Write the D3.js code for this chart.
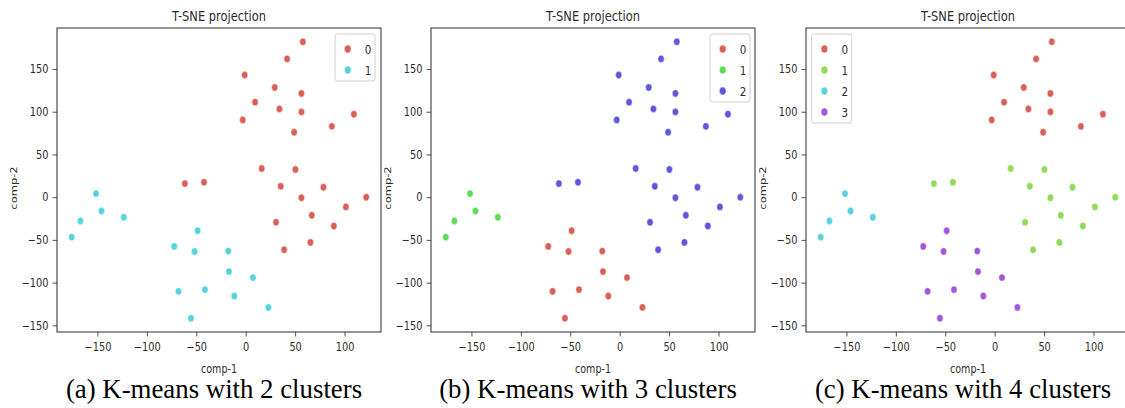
<!DOCTYPE html>
<html>
<head>
<meta charset="utf-8">
<script src="https://cdn.jsdelivr.net/npm/d3@7"></script>
<style>
  html, body { margin: 0; padding: 0; background: #fff; }
  svg { display: block; }
</style>
</head>
<body>
<svg id="chart" width="1125" height="408"></svg>
<script>
// ---- data ----
const compX = [57.8, 41.9, -1, 29.4, 56.4, 9.5, 34.1, 56.4, 109.5, -3, 87.2, 49,
  16.2, 50.3, -61.5, -42.2, 35.5, 78.7, 56.4, 122, 66.9, 101.4, 30.7, 89.2, 65.5, 38.9,
  -151.4, -145.9, -167.2, -123.3, -176,
  -48.6, -72.3, -51.7, -17.6, -16.9, 7.4, -67.9, -41.2, -11.5, 23, -55.4];
const compY = [181.8, 161.8, 142.9, 128.4, 121.4, 111.2, 103.3, 99.8, 97.1, 90.4, 82.9, 75.9,
  33.5, 32.4, 15.9, 17.5, 12.7, 11.6, -0.7, -0.1, -21.2, -11.4, -29.4, -33.7, -52.9, -61.6,
  4.2, -16.1, -27.8, -23.5, -46.7,
  -39.2, -57.6, -63.5, -63.1, -87.1, -94.1, -110.2, -108.2, -115.7, -129, -141.6];
const k2Labels = [0,0,0,0,0,0,0,0,0,0,0,0, 0,0,0,0,0,0,0,0,0,0,0,0,0,0, 1,1,1,1,1, 1,1,1,1,1,1,1,1,1,1,1];
const k3Labels = [2,2,2,2,2,2,2,2,2,2,2,2, 2,2,2,2,2,2,2,2,2,2,2,2,2,2, 1,1,1,1,1, 0,0,0,0,0,0,0,0,0,0,0];
const k4Labels = [0,0,0,0,0,0,0,0,0,0,0,0, 1,1,1,1,1,1,1,1,1,1,1,1,1,1, 2,2,2,2,2, 3,3,3,3,3,3,3,3,3,3,3];
const xTicks = [-150, -100, -50, 0, 50, 100];
const yTicks = [-150, -100, -50, 0, 50, 100, 150];
const captions = ["(a) K-means with 2 clusters", "(b) K-means with 3 clusters", "(c) K-means with 4 clusters"];
const panelTitle = "T-SNE projection";
const xLabel = "comp-1";
const yLabel = "comp-2";

// ---- styles ----
const palettes = [
  ["#db5f57", "#57d3db"],
  ["#db5f57", "#5fdb57", "#5f57db"],
  ["#db5f57", "#91db57", "#57d3db", "#a157db"]
];
const SX = 0.83; // horizontal squeeze of the reference image
const sansFont = "'DejaVu Sans', sans-serif";
const panels = [
  { left: 57,  labels: k2Labels, pal: palettes[0], legendX: 278, cap: captions[0] },
  { left: 431, labels: k3Labels, pal: palettes[1], legendX: 279, cap: captions[1] },
  { left: 806, labels: k4Labels, pal: palettes[2], legendX: 5.7, cap: captions[2] }
];
const plotTop = 28, W = 324, H = 304;

function padded(ext) { const p = (ext[1] - ext[0]) * 0.05; return [ext[0] - p, ext[1] + p]; }
const x = d3.scaleLinear().domain(padded(d3.extent(compX))).range([0, W]);
const y = d3.scaleLinear().domain(padded(d3.extent(compY))).range([H, 0]);

const svg = d3.select("#chart");
const ink = "#2b2b2b";

panels.forEach((p) => {
  const g = svg.append("g").attr("transform", `translate(${p.left},${plotTop})`);

  // points
  const pts = d3.range(compX.length);
  g.append("g").selectAll("ellipse").data(pts).join("ellipse")
    .attr("cx", i => x(compX[i]))
    .attr("cy", i => y(compY[i]))
    .attr("rx", 3.2).attr("ry", 3.7)
    .attr("fill", i => p.pal[p.labels[i]])
    .attr("stroke", "#fff").attr("stroke-width", 0.5);

  // axes
  const xa = g.append("g").attr("transform", `translate(0,${H})`)
    .call(d3.axisBottom(x).tickValues(xTicks).tickSize(4.5).tickPadding(6.5));
  const ya = g.append("g")
    .call(d3.axisLeft(y).tickValues(yTicks).tickSize(4.5).tickPadding(4));
  [xa, ya].forEach(a => {
    a.select(".domain").remove();
    a.selectAll(".tick line").attr("stroke", ink).attr("stroke-width", 0.8);
    a.selectAll(".tick text")
      .attr("font-family", sansFont).attr("font-size", 11.8).attr("fill", ink)
      .attr("x", function () { return (+this.getAttribute("x") || 0) / SX; })
      .attr("transform", `scale(${SX},1)`);
  });

  // frame
  g.append("rect").attr("x", 0).attr("y", 0).attr("width", W).attr("height", H)
    .attr("fill", "none").attr("stroke", ink).attr("stroke-width", 1);

  // title
  g.append("text")
    .attr("transform", `translate(${W / 2},-7) scale(${SX},1)`)
    .attr("text-anchor", "middle").attr("font-family", sansFont)
    .attr("font-size", 13.8).attr("fill", ink).text(panelTitle);

  // axis labels
  g.append("text")
    .attr("transform", `translate(${W / 2},${373 - plotTop}) scale(${SX},1)`)
    .attr("text-anchor", "middle").attr("font-family", sansFont)
    .attr("font-size", 11.5).attr("fill", ink).text(xLabel);
  g.append("text")
    .attr("transform", `translate(${17 - 57},${188 - plotTop}) scale(${SX},1) rotate(-90)`)
    .attr("text-anchor", "middle").attr("font-family", sansFont)
    .attr("font-size", 11.5).attr("fill", ink).text(yLabel);

  // legend
  const n = p.pal.length;
  const lg = g.append("g").attr("transform", `translate(${p.legendX},6)`);
  lg.append("rect").attr("width", 40).attr("height", 5 + 21 * n)
    .attr("rx", 2.5).attr("fill", "#fff").attr("fill-opacity", 0.85)
    .attr("stroke", "#d0d0d0").attr("stroke-width", 1);
  const items = lg.selectAll("g.item").data(d3.range(n)).join("g")
    .attr("class", "item").attr("transform", k => `translate(0,${15 + 21 * k})`);
  items.append("ellipse").attr("cx", 12.7).attr("cy", 0).attr("rx", 3.4).attr("ry", 4)
    .attr("fill", k => p.pal[k]).attr("stroke", "#fff").attr("stroke-width", 0.5);
  items.append("text")
    .attr("transform", `translate(33,0) scale(${SX},1)`)
    .attr("dy", "0.36em").attr("text-anchor", "middle")
    .attr("font-family", sansFont).attr("font-size", 12.5).attr("fill", ink)
    .text(k => String(k));

  // caption
  svg.append("text")
    .attr("x", p.left + W / 2 - 5).attr("y", 398)
    .attr("text-anchor", "middle")
    .attr("font-family", "'Liberation Serif', 'Times New Roman', serif")
    .attr("font-size", 26.8).attr("fill", "#000").text(p.cap);
});
</script>
</body>
</html>
